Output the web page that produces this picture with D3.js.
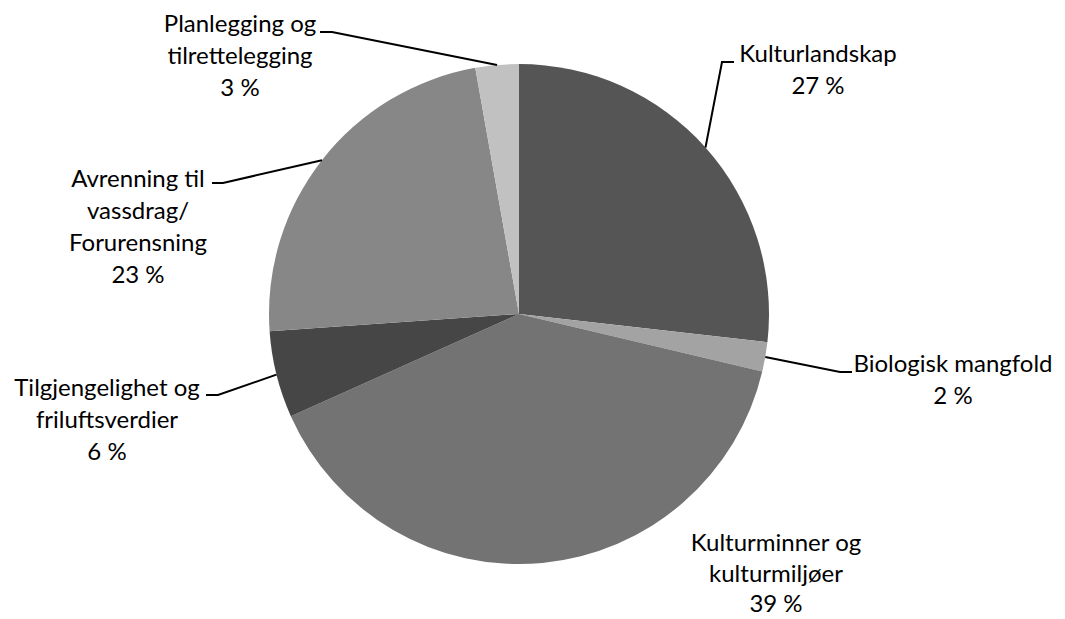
<!DOCTYPE html>
<html><head><meta charset="utf-8">
<script src="https://cdn.jsdelivr.net/npm/d3@7"></script>
<style>body{margin:0;background:#fff}svg{display:block}text{font-family:Lato,"Open Sans",sans-serif;font-size:24px;fill:#000}</style>
</head><body><svg id="c" width="1065" height="619"></svg>
<script>
const categories = ["Kulturlandskap","Biologisk mangfold","Kulturminner og kulturmiljøer","Tilgjengelighet og friluftsverdier","Avrenning til vassdrag/ Forurensning","Planlegging og tilrettelegging"];
const values = [26.8, 1.9, 39.6, 5.6, 23.3, 2.8];
const percentLabels = ["27 %","2 %","39 %","6 %","23 %","3 %"];
const labelLines = [["Kulturlandskap"],["Biologisk mangfold"],["Kulturminner og","kulturmiljøer"],["Tilgjengelighet og","friluftsverdier"],["Avrenning til","vassdrag/","Forurensning"],["Planlegging og","tilrettelegging"]];
const colors = ["#555555","#a3a3a3","#737373","#464646","#878787","#c1c1c1"];
// label layout: text center x, first baseline y, line height, elbow points (null for no leader)
const layout = [
  {x:818, y:62, lh:32, elbow:[722,62], end:[734,62]},
  {x:953, y:372, lh:32, elbow:[840,372], end:[852,372]},
  {x:776, y:551, lh:30.5, elbow:null},
  {x:107, y:396, lh:32, elbow:[218,395], end:[206,395]},
  {x:138, y:187, lh:32, elbow:[223,183], end:[212,183]},
  {x:240, y:32, lh:32, elbow:[332,32], end:[320,32]}
];
const cx=519, cy=314, r=250;
const svg=d3.select("#c");
const g=svg.append("g").attr("transform",`translate(${cx},${cy})`);
const pie=d3.pie().sort(null).value(d=>d)(values);
const arc=d3.arc().innerRadius(0).outerRadius(r);
g.selectAll("path").data(pie).join("path").attr("d",arc).attr("fill",(d,i)=>colors[i]);
pie.forEach((d,i)=>{
  const L=layout[i];
  if(L.elbow){
    const a=(d.startAngle+d.endAngle)/2;
    const px=cx+r*Math.sin(a), py=cy-r*Math.cos(a);
    svg.append("polyline").attr("points",[[px,py],L.elbow,L.end].map(p=>p.join(",")).join(" "))
      .attr("fill","none").attr("stroke","#000").attr("stroke-width",2);
  }
  const lines=labelLines[i].concat([percentLabels[i]]);
  const t=svg.append("text").attr("text-anchor","middle");
  lines.forEach((s,k)=>t.append("tspan").attr("x",L.x).attr("y",L.y+k*L.lh).text(s));
});
</script></body></html>
